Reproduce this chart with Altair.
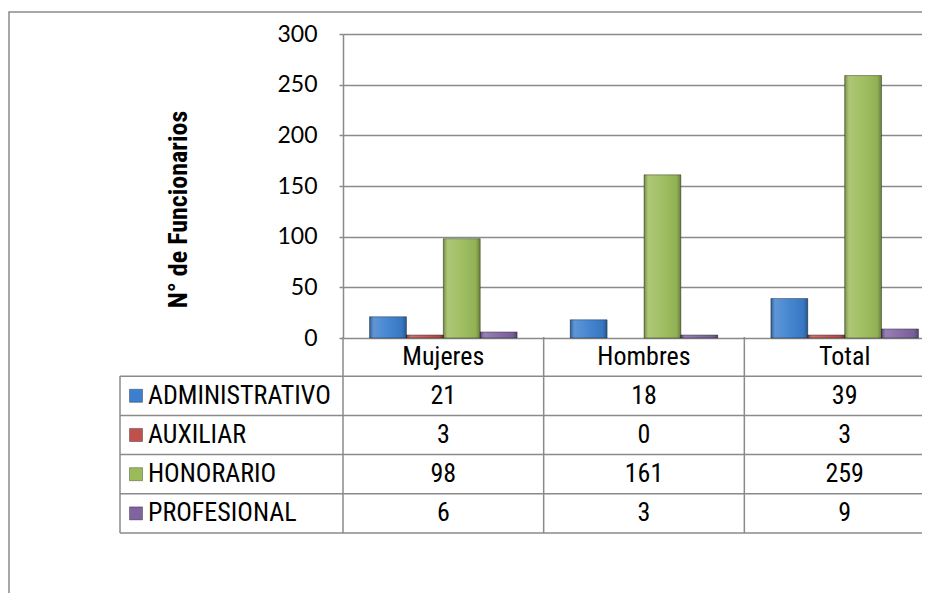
import altair as alt
import pandas as pd

categories = ["Mujeres", "Hombres", "Total"]
series = ["ADMINISTRATIVO", "AUXILIAR", "HONORARIO", "PROFESIONAL"]
administrativo = [21, 18, 39]
auxiliar = [3, 0, 3]
honorario = [98, 161, 259]
profesional = [6, 3, 9]
y_ticks = [0, 50, 100, 150, 200, 250, 300]
colors = ["#3B7FCE", "#C0504D", "#9BBB59", "#8064A2"]

values_by_series = [administrativo, auxiliar, honorario, profesional]
records = []
for s, vals in zip(series, values_by_series):
    for c, v in zip(categories, vals):
        records.append({"cat": c, "series": s, "value": v, "row": s})
df = pd.DataFrame(records)
header_df = pd.DataFrame({"cat": categories, "row": ["header"] * len(categories)})
series_df = pd.DataFrame({"series": series, "row": series})
one = pd.DataFrame({"a": [0]})

GRAY = "#8a8a8a"
TFONT = "Liberation Sans Narrow, Arial Narrow, Roboto Condensed, DejaVu Sans Condensed, sans-serif"

x_scale = alt.Scale(domain=categories, range=[0, 602], paddingInner=0, paddingOuter=0)
xoff_scale = alt.Scale(domain=series, paddingInner=0, paddingOuter=0.72)
y_scale = alt.Scale(domain=[0, 300], nice=False)
color_scale = alt.Scale(domain=series, range=colors)
row_domain = ["header"] + series
row_scale = alt.Scale(type="band", domain=row_domain, range=[303, 499], paddingInner=0, paddingOuter=0)

frame = alt.Chart(one).mark_rect(fillOpacity=0, stroke=GRAY, strokeWidth=1.5).encode(
    x=alt.value(-334), x2=alt.value(700), y=alt.value(-22), y2=alt.value(700)
)

bars = alt.Chart(df).transform_filter("datum.value > 0").mark_bar().encode(
    x=alt.X("cat:N", scale=x_scale, axis=None, sort=categories),
    xOffset=alt.XOffset("series:N", scale=xoff_scale),
    y=alt.Y("value:Q", scale=y_scale, axis=alt.Axis(
        values=y_ticks, grid=True, gridColor=GRAY, gridWidth=1.5,
        domainColor=GRAY, domainWidth=1.5, tickColor=GRAY, tickWidth=1.5, tickSize=4,
        labelFont="Lato", labelFontSize=23, labelColor="black", labelPadding=22,
        title="N° de Funcionarios", titleFont=TFONT, titleFontWeight="bold",
        titleFontSize=26, titleColor="black", titleAngle=-90, titleBaseline="middle",
        titleAlign="center", titleX=-165, titleY=175)),
    color=alt.Color("series:N", scale=color_scale, legend=None),
)

shade_gradient = alt.Gradient(
    gradient="linear", x1=0, x2=1, y1=0, y2=0,
    stops=[
        alt.GradientStop(offset=0, color="rgba(0,0,0,0.30)"),
        alt.GradientStop(offset=0.12, color="rgba(255,255,255,0.18)"),
        alt.GradientStop(offset=0.5, color="rgba(255,255,255,0.06)"),
        alt.GradientStop(offset=0.88, color="rgba(0,0,0,0.06)"),
        alt.GradientStop(offset=1, color="rgba(0,0,0,0.32)"),
    ],
)
shade = alt.Chart(df).transform_filter("datum.value > 0").mark_bar(
    color=shade_gradient, stroke="rgba(0,0,0,0.35)", strokeWidth=1
).encode(
    x=alt.X("cat:N", scale=x_scale, axis=None, sort=categories),
    xOffset=alt.XOffset("series:N", scale=xoff_scale),
    y=alt.Y("value:Q", scale=y_scale, axis=None),
)

cell_text = alt.Chart(df).mark_text(font=TFONT, fontSize=26, color="black", baseline="middle").encode(
    x=alt.X("cat:N", scale=x_scale, axis=None, sort=categories),
    y=alt.Y("row:N", scale=row_scale, axis=None, bandPosition=0.5),
    text=alt.Text("value:Q"),
)

header_text = alt.Chart(header_df).mark_text(font=TFONT, fontSize=26, color="black", baseline="middle").encode(
    x=alt.X("cat:N", scale=x_scale, axis=None, sort=categories),
    y=alt.Y("row:N", scale=row_scale, axis=None, bandPosition=0.5),
    text="cat:N",
)

label_text = alt.Chart(series_df).mark_text(font=TFONT, fontSize=26, color="black", baseline="middle", align="left").encode(
    x=alt.value(-195),
    y=alt.Y("row:N", scale=row_scale, axis=None, bandPosition=0.5),
    text="series:N",
)

label_square = alt.Chart(series_df).mark_point(shape="square", filled=True, size=170, opacity=1,
                                                stroke="rgba(0,0,0,0.4)", strokeWidth=0.8).encode(
    x=alt.value(-207),
    y=alt.Y("row:N", scale=row_scale, axis=None, bandPosition=0.5),
    color=alt.Color("series:N", scale=color_scale, legend=None),
)

hlines = alt.Chart(series_df).mark_rule(color=GRAY, strokeWidth=1.5).encode(
    y=alt.Y("row:N", scale=row_scale, axis=None, bandPosition=0),
    x=alt.value(-223), x2=alt.value(700),
)
bottom_line = alt.Chart(series_df.tail(1)).mark_rule(color=GRAY, strokeWidth=1.5).encode(
    y=alt.Y("row:N", scale=row_scale, axis=None, bandPosition=1),
    x=alt.value(-223), x2=alt.value(700),
)
vlines = alt.Chart(header_df).mark_rule(color=GRAY, strokeWidth=1.5).encode(
    x=alt.X("cat:N", scale=x_scale, axis=None, sort=categories, bandPosition=0),
    y=alt.value(303), y2=alt.value(499),
)
left_border = alt.Chart(one).mark_rule(color=GRAY, strokeWidth=1.5).encode(
    x=alt.value(-223), y=alt.value(342), y2=alt.value(499),
)

chart = alt.layer(
    frame, bars, shade, hlines, bottom_line, vlines, left_border,
    cell_text, header_text, label_square, label_text,
).resolve_scale(y="independent").properties(
    width=579, height=304,
    autosize=alt.AutoSizeParams(type="none"),
    padding={"left": 335, "top": 26, "right": 0, "bottom": 255},
    background="white",
).configure_view(stroke=None)

chart.save("out.html", embed_options={"renderer": "svg", "actions": False})
